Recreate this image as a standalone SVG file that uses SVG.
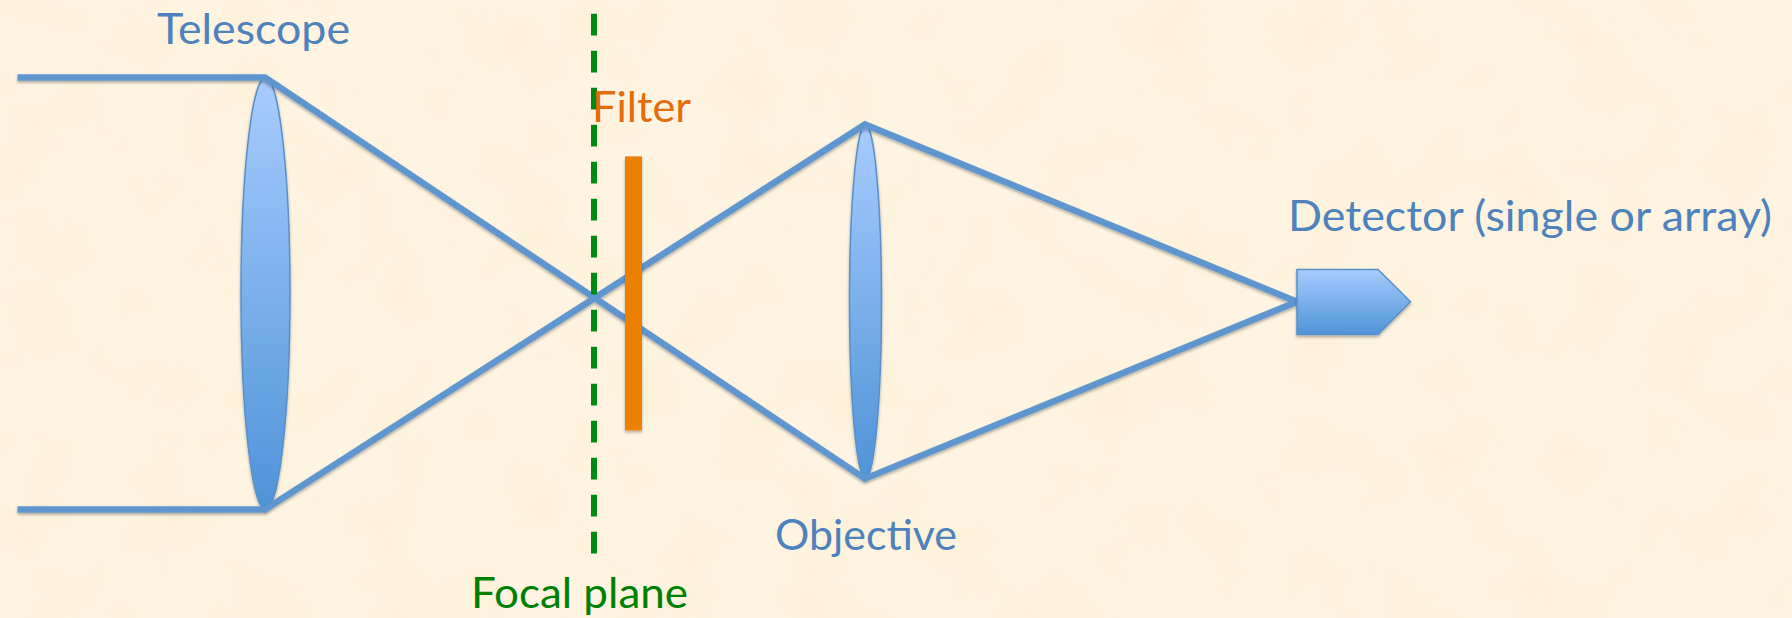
<svg xmlns="http://www.w3.org/2000/svg" width="1792" height="618" viewBox="0 0 1792 618">
<style>
text{font-family:"Lato","Open Sans","Liberation Sans",sans-serif;font-size:43px}
.blue{fill:#4f81bd}
.ray{fill:none;stroke:#6096d0;stroke-width:6.5;stroke-linecap:butt;stroke-linejoin:miter}
.optic{fill:url(#glass);stroke:#5a8fca;stroke-width:1.5;filter:url(#shadow)}
</style>
<defs>
<linearGradient id="glass" x1="0" y1="0" x2="0" y2="1">
<stop offset="0" stop-color="#a8ccff"/><stop offset="1" stop-color="#4e93d8"/>
</linearGradient>
<filter id="shadow" x="-20%" y="-20%" width="140%" height="140%">
<feDropShadow dx="0" dy="2" stdDeviation="1.6" flood-color="#000" flood-opacity=".3"/>
</filter>
<filter id="paper" x="0" y="0" width="100%" height="100%">
<feTurbulence type="fractalNoise" baseFrequency=".014" numOctaves="4" seed="7"/>
<feColorMatrix values="0 0 0 0 .96  0 0 0 0 .86  0 0 0 0 .62  3.2 0 0 0 -1.45"/>
</filter>
</defs>
<g id="background">
<rect width="1792" height="618" fill="#fef4e1"/>
<rect width="1792" height="618" filter="url(#paper)" opacity=".4"/>
</g>
<g id="telescope">
<ellipse class="optic" cx="265.5" cy="293.5" rx="24.5" ry="216"/>
<text class="blue" x="157" y="44" textLength="193" lengthAdjust="spacingAndGlyphs">Telescope</text>
</g>
<g id="objective">
<ellipse class="optic" cx="865.5" cy="301.6" rx="16" ry="177"/>
<text class="blue" x="775" y="550" textLength="182" lengthAdjust="spacingAndGlyphs">Objective</text>
</g>
<g id="connectors" filter="url(#shadow)">
<path class="ray" d="M17.5 77.6H265L865 478.7L1297 301.7"/>
<path class="ray" d="M17.5 509.5H265L865 124.5L1297 301.7"/>
</g>
<g id="focal-plane">
<line x1="594" y1="13.8" x2="594" y2="557" stroke="#008a14" stroke-width="6" stroke-dasharray="21.7 15.3"/>
<text x="471" y="608" fill="#008000" textLength="217" lengthAdjust="spacingAndGlyphs">Focal plane</text>
</g>
<g id="filter">
<rect x="625" y="156.4" width="17" height="274" fill="#ec8000" filter="url(#shadow)"/>
<text x="592" y="122" fill="#e46c0a" textLength="99" lengthAdjust="spacingAndGlyphs">Filter</text>
</g>
<g id="detector">
<path class="optic" d="M1297 269.5H1378L1410.5 301.7L1378 334.5H1297Z"/>
<text class="blue" x="1288" y="231" textLength="484" lengthAdjust="spacingAndGlyphs">Detector (single or array)</text>
</g>
</svg>
